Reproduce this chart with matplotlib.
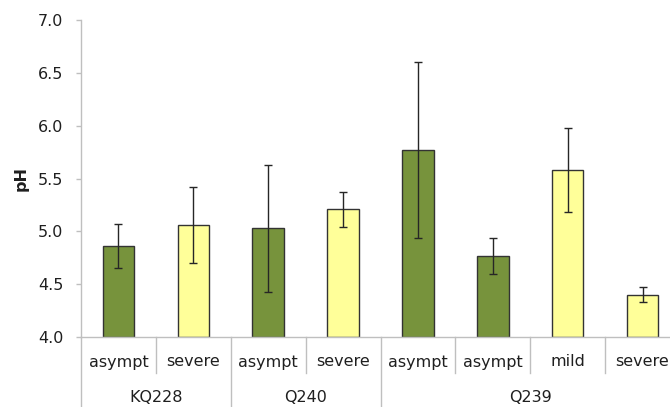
import matplotlib
matplotlib.use("Agg")
import matplotlib.pyplot as plt
import matplotlib.transforms as mtransforms
from matplotlib.ticker import FormatStrFormatter

# pH per isolate and clinical outcome
groups = ["KQ228", "Q240", "Q239"]
group_sizes = [2, 2, 4]
outcomes = ["asympt", "severe", "asympt", "severe", "asympt", "asympt", "mild", "severe"]
ph_mean = [4.86, 5.06, 5.03, 5.21, 5.77, 4.77, 5.58, 4.40]
ph_err = [0.205, 0.36, 0.60, 0.165, 0.83, 0.17, 0.40, 0.07]

green = "#77933C"
yellow = "#FFFF99"
colors = [green if o == "asympt" else yellow for o in outcomes]
axis_grey = "#BFBFBF"
text_col = "#1F1F1F"

plt.rcParams["font.family"] = ["DejaVu Sans"]

fig = plt.figure(figsize=(6.7, 4.07), dpi=100)
W, H = 670, 407
# axes extends a little past the right edge of the figure
ax = fig.add_axes([81 / W, (H - 337) / H, (680 - 81) / W, (337 - 20) / H])

x = list(range(len(outcomes)))
ax.bar(x, [m - 4.0 for m in ph_mean], bottom=4.0, width=0.42, color=colors,
       edgecolor="#333333", linewidth=1.0, zorder=2)
ax.errorbar(x, ph_mean, yerr=ph_err, fmt="none", ecolor="#262626",
            elinewidth=1.0, capsize=2.6, capthick=1.0, zorder=3)

ax.set_xlim(-0.5, len(outcomes) - 0.5)
ax.set_ylim(4.0, 7.0)
ax.set_yticks([4.0, 4.5, 5.0, 5.5, 6.0, 6.5, 7.0])
ax.yaxis.set_major_formatter(FormatStrFormatter("%.1f"))
ax.set_xticks([])
ax.tick_params(axis="y", length=3.6, width=1, color=axis_grey, labelsize=11.5,
               labelcolor=text_col, pad=9)

for side in ["top", "right"]:
    ax.spines[side].set_visible(False)
ax.spines["bottom"].set_color(axis_grey)
ax.spines["left"].set_color(axis_grey)
ax.spines["bottom"].set_linewidth(1.0)
ax.spines["left"].set_linewidth(1.0)

ax.set_ylabel("pH", fontsize=11.5, fontweight="bold", labelpad=7, color=text_col)

# two-level category axis below the plot
trans = mtransforms.blended_transform_factory(ax.transData, ax.transAxes)
px = 1 / 317
ax.plot([-0.5, -0.5], [0, -(407 - 337) * px], transform=trans, color=axis_grey,
        lw=1.0, clip_on=False)

group_edges = [-0.5]
for n in group_sizes:
    group_edges.append(group_edges[-1] + n)

for i in range(1, len(outcomes)):
    b = i - 0.5
    depth = -(407 - 337) * px if b in group_edges else -(373 - 337) * px
    ax.plot([b, b], [0, depth], transform=trans, color=axis_grey, lw=1.0,
            clip_on=False)

for xi, label in zip(x, outcomes):
    ax.text(xi, -(362 - 337) * px, label, transform=trans, ha="center",
            va="center", fontsize=11.5, color=text_col)

for g, lo, hi in zip(groups, group_edges[:-1], group_edges[1:]):
    ax.text((lo + hi) / 2, -(398 - 337) * px, g, transform=trans, ha="center",
            va="center", fontsize=11.5, color=text_col)

fig.savefig("out.png", dpi=100)
